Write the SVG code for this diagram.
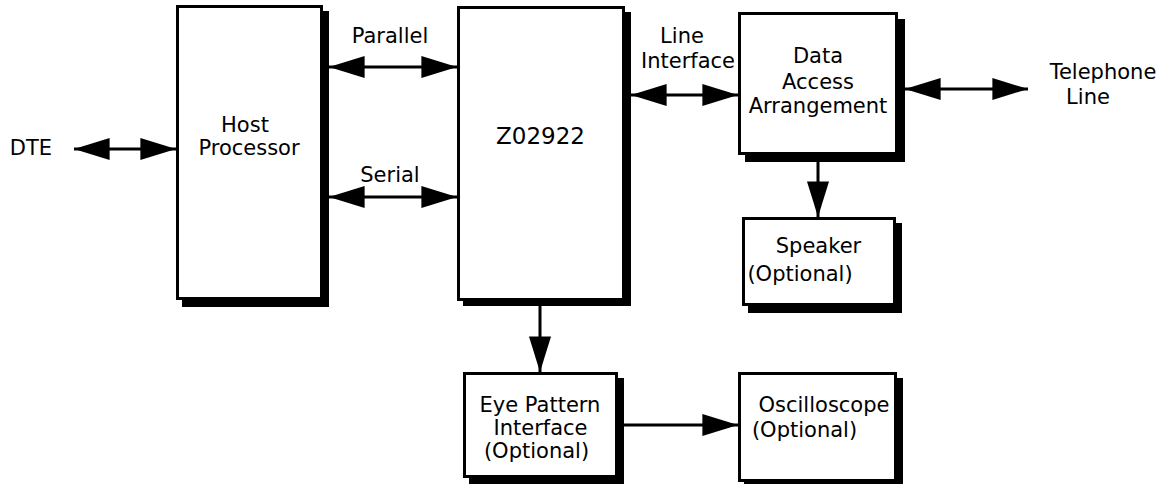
<svg xmlns="http://www.w3.org/2000/svg" width="1166" height="484" viewBox="0 0 1166 484">
<style>
.sh{fill:#000}
.bx{fill:#fff;stroke:#000;stroke-width:3}
.t{font-family:"DejaVu Sans","Liberation Sans",sans-serif;font-size:21px;fill:#000;text-anchor:middle}
.c{stroke:#000;stroke-width:3;fill:none}
</style>
<defs>
<marker id="ah" markerUnits="userSpaceOnUse" markerWidth="36" markerHeight="22" viewBox="0 0 34 21" refX="34" refY="10.5" orient="auto-start-reverse">
<path d="M0,0 L34,10.5 L0,21 z" fill="#000"/>
</marker>
</defs>
<rect width="1166" height="484" fill="#fff"/>
<g id="connectors">
<line class="c" x1="74" y1="149" x2="176" y2="149" marker-start="url(#ah)" marker-end="url(#ah)"/>
<line class="c" x1="329" y1="67" x2="457" y2="67" marker-start="url(#ah)" marker-end="url(#ah)"/>
<line class="c" x1="329" y1="197" x2="457" y2="197" marker-start="url(#ah)" marker-end="url(#ah)"/>
<line class="c" x1="631" y1="95" x2="738" y2="95" marker-start="url(#ah)" marker-end="url(#ah)"/>
<line class="c" x1="905" y1="89" x2="1028" y2="89" marker-start="url(#ah)" marker-end="url(#ah)"/>
<line class="c" x1="818" y1="162" x2="818" y2="217" marker-end="url(#ah)"/>
<line class="c" x1="540" y1="306" x2="540" y2="372" marker-end="url(#ah)"/>
<line class="c" x1="624" y1="425" x2="738" y2="425" marker-end="url(#ah)"/>
</g>
<g id="dte"><text class="t" x="31" y="155">DTE</text></g>
<g id="host">
<rect class="sh" x="182" y="11" width="147" height="296"/>
<rect class="bx" x="177.5" y="6.5" width="144" height="292"/>
<text class="t" x="245" y="132">Host</text>
<text class="t" x="249" y="155">Processor</text>
</g>
<g id="parallel-label"><text class="t" x="390" y="43">Parallel</text></g>
<g id="serial-label"><text class="t" x="390" y="182">Serial</text></g>
<g id="z02922">
<rect class="sh" x="463" y="12" width="168" height="294"/>
<rect class="bx" x="458.5" y="7.5" width="165" height="292"/>
<text class="t" x="540.5" y="144" style="font-size:23px">Z02922</text>
</g>
<g id="line-interface-label">
<text class="t" x="682" y="43">Line</text>
<text class="t" x="688" y="68">Interface</text>
</g>
<g id="daa">
<rect class="sh" x="745" y="19" width="160" height="143"/>
<rect class="bx" x="739.5" y="13.5" width="157" height="140"/>
<text class="t" x="818" y="63">Data</text>
<text class="t" x="818" y="89">Access</text>
<text class="t" x="818" y="113">Arrangement</text>
</g>
<g id="telephone">
<text class="t" x="1103" y="79">Telephone</text>
<text class="t" x="1088" y="104">Line</text>
</g>
<g id="speaker">
<rect class="sh" x="748" y="223" width="154" height="90"/>
<rect class="bx" x="743.5" y="218.5" width="151" height="86"/>
<text class="t" x="818.5" y="253">Speaker</text>
<text class="t" x="800" y="281">(Optional)</text>
</g>
<g id="eye-pattern">
<rect class="sh" x="469" y="378" width="155" height="106"/>
<rect class="bx" x="464.5" y="373.5" width="152" height="103"/>
<text class="t" x="540" y="412">Eye Pattern</text>
<text class="t" x="540.5" y="435">Interface</text>
<text class="t" x="536.5" y="458">(Optional)</text>
</g>
<g id="oscilloscope">
<rect class="sh" x="744" y="378" width="159" height="106"/>
<rect class="bx" x="739.5" y="373.5" width="156" height="107"/>
<text class="t" x="824" y="412">Oscilloscope</text>
<text class="t" x="804.5" y="437">(Optional)</text>
</g>
</svg>
